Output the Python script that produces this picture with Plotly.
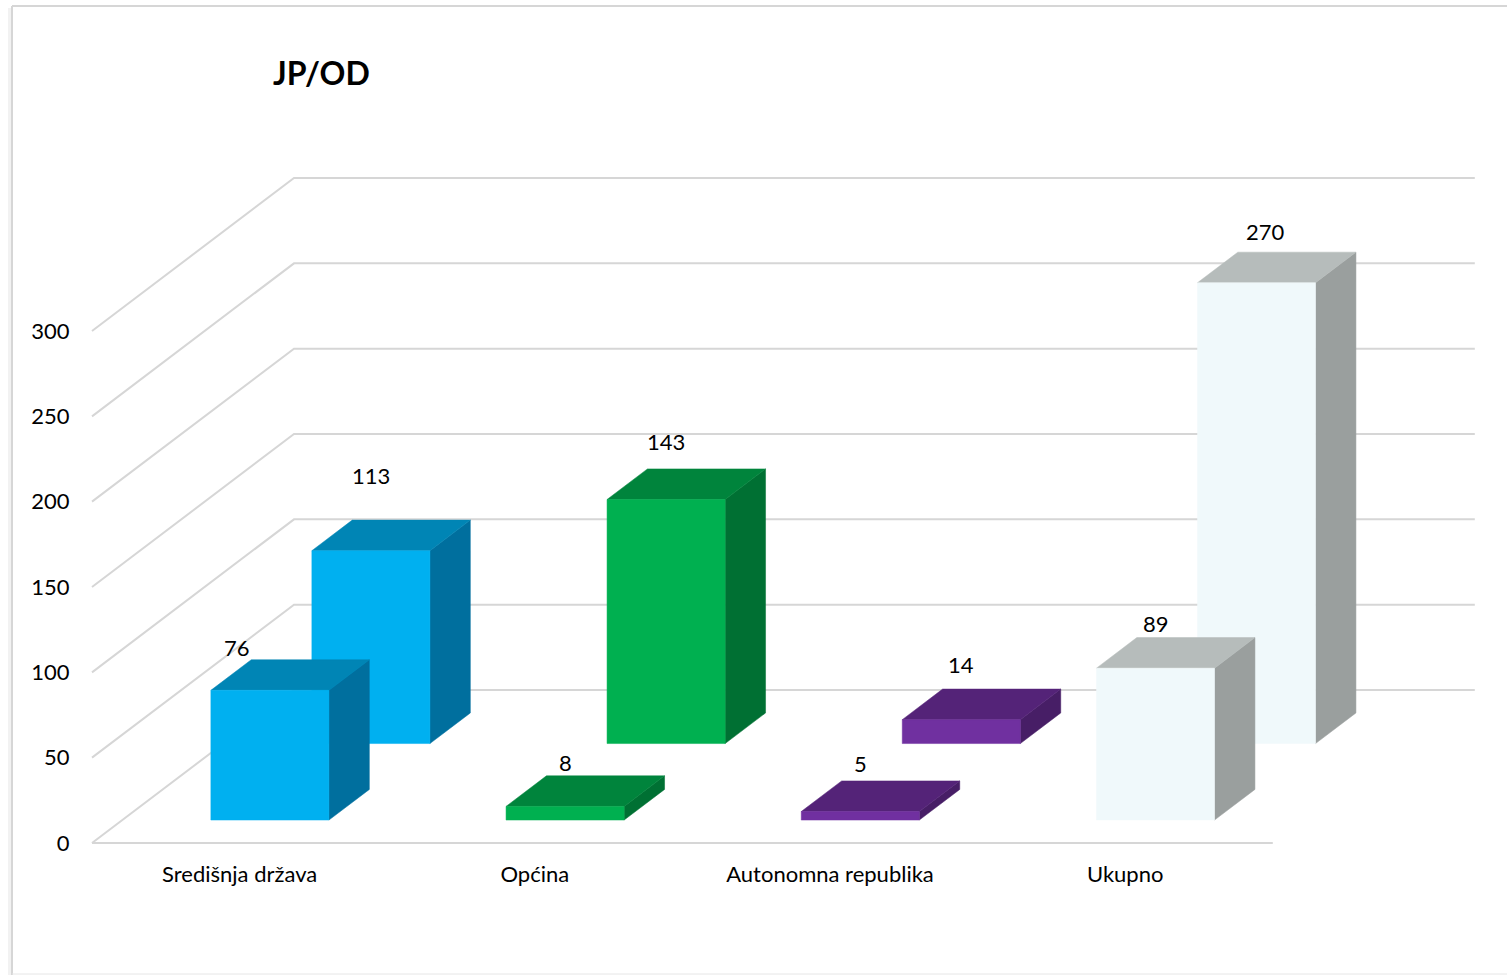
import plotly.graph_objects as go

# ---- data ----
categories = ["Središnja država", "Općina", "Autonomna republika", "Ukupno"]
front_values = [76, 8, 5, 89]
back_values = [113, 143, 14, 270]
value_ticks = [0, 50, 100, 150, 200, 250, 300]
title_text = "JP/OD"

# ---- styling ----
face_colors = ["#00B0F0", "#00B050", "#7030A0", "#F0F9FB"]
top_colors = ["#0085B5", "#00843C", "#542378", "#B6BCBB"]
side_colors = ["#006F9E", "#007033", "#471E66", "#9A9F9E"]
GRID = "#D6D6D6"
FONT = "Lato"
W, H = 1507, 975
L, B = 89, 121
PX_CAT, PX_VAL = 295.2, 512 / 300
DEPTH_X, DEPTH_Y = 202 / PX_CAT, 153 / PX_VAL   # oblique projection of the depth axis
BAR_LO, BAR_HI = 0.3, 0.7
ROWS = {"front": (0.15, 0.35), "back": (0.65, 0.85)}
front_label_shift = [(-33, 12), (0, 13), (0, 17), (0, 14)]
back_label_shift = [(0, 45), (0, 27), (0, 25), (9, 21)]


def proj(cat, depth, val):
    return cat + depth * DEPTH_X, val + depth * DEPTH_Y


def poly(fig, pts, color):
    xs, ys = zip(*[proj(*p) for p in pts])
    fig.add_trace(go.Scatter(x=list(xs) + [xs[0]], y=list(ys) + [ys[0]], mode="lines",
                             fill="toself", fillcolor=color, line=dict(color=color, width=0.5),
                             hoverinfo="skip", showlegend=False))


def bar(fig, i, row, val):
    d0, d1 = ROWS[row]
    c0, c1 = i + BAR_LO, i + BAR_HI
    poly(fig, [(c1, d0, 0), (c1, d1, 0), (c1, d1, val), (c1, d0, val)], side_colors[i])
    poly(fig, [(c0, d0, val), (c1, d0, val), (c1, d1, val), (c0, d1, val)], top_colors[i])
    poly(fig, [(c0, d0, 0), (c1, d0, 0), (c1, d0, val), (c0, d0, val)], face_colors[i])


fig = go.Figure()
n = len(categories)

# walls and floor gridlines
for v in value_ticks:
    pts = [proj(0, 0, v), proj(0, 1, v), proj(n, 1, v)]
    fig.add_trace(go.Scatter(x=[p[0] for p in pts], y=[p[1] for p in pts], mode="lines",
                             line=dict(color=GRID, width=2), hoverinfo="skip", showlegend=False))
fig.add_trace(go.Scatter(x=[0, n], y=[0, 0], mode="lines", line=dict(color=GRID, width=2),
                         hoverinfo="skip", showlegend=False))

for i, v in enumerate(back_values):
    bar(fig, i, "back", v)
for i, v in enumerate(front_values):
    bar(fig, i, "front", v)

annotations = []
for row, values, shifts in (("front", front_values, front_label_shift), ("back", back_values, back_label_shift)):
    for i, v in enumerate(values):
        x, y = proj(i + 0.5, ROWS[row][0], v)
        annotations.append(dict(x=x, y=y, xref="x", yref="y", text=str(v), showarrow=False,
                                xanchor="center", yanchor="middle",
                                xshift=shifts[i][0],
                                yshift=shifts[i][1] + 30.6,
                                font=dict(family=FONT, size=22, color="#000000")))

plot_w, plot_h = W - L, H - B


def xp(px):
    return (px - L) / plot_w


def yp(py):
    return 1 - py / plot_h


annotations.append(dict(x=xp(271), y=yp(73), xref="paper", yref="paper", text=f"<b>{title_text}</b>",
                        showarrow=False, xanchor="left", yanchor="middle",
                        font=dict(family=FONT, size=32, color="#000000")))

shapes = [
    dict(type="line", xref="paper", yref="paper", x0=xp(9.5), x1=xp(9.5), y0=yp(8), y1=yp(975),
         line=dict(color="#F2F2F2", width=3), layer="below"),
    dict(type="line", xref="paper", yref="paper", x0=xp(12), x1=xp(12), y0=yp(6), y1=yp(975),
         line=dict(color="#D6D6D6", width=2), layer="below"),
    dict(type="line", xref="paper", yref="paper", x0=xp(12), x1=xp(1507), y0=yp(6), y1=yp(6),
         line=dict(color="#D6D6D6", width=2), layer="below"),
    dict(type="line", xref="paper", yref="paper", x0=xp(12), x1=xp(1507), y0=yp(974), y1=yp(974),
         line=dict(color="#E6E6E6", width=1), layer="below"),
]

fig.update_layout(
    width=W, height=H, margin=dict(l=L, r=0, t=0, b=B, pad=0),
    paper_bgcolor="white", plot_bgcolor="white", showlegend=False,
    annotations=annotations, shapes=shapes,
    xaxis=dict(range=[-3 / PX_CAT, (W - L - 3) / PX_CAT], tickmode="array",
               tickvals=[i + 0.5 for i in range(n)], ticktext=categories,
               showgrid=False, zeroline=False, showline=False,
               ticks="outside", ticklen=1, tickcolor="rgba(0,0,0,0)",
               tickfont=dict(family=FONT, size=22, color="#000000")),
    yaxis=dict(range=[-11 / PX_VAL, 843 / PX_VAL], tickmode="array",
               tickvals=value_ticks, ticktext=[str(v) for v in value_ticks],
               showgrid=False, zeroline=False, showline=False,
               ticks="outside", ticklen=14, tickcolor="rgba(0,0,0,0)",
               tickfont=dict(family=FONT, size=22, color="#000000")),
)

fig.write_html("out.html", config={"displayModeBar": False},
               post_script="document.body.style.margin='0';document.documentElement.style.overflow='hidden';")
